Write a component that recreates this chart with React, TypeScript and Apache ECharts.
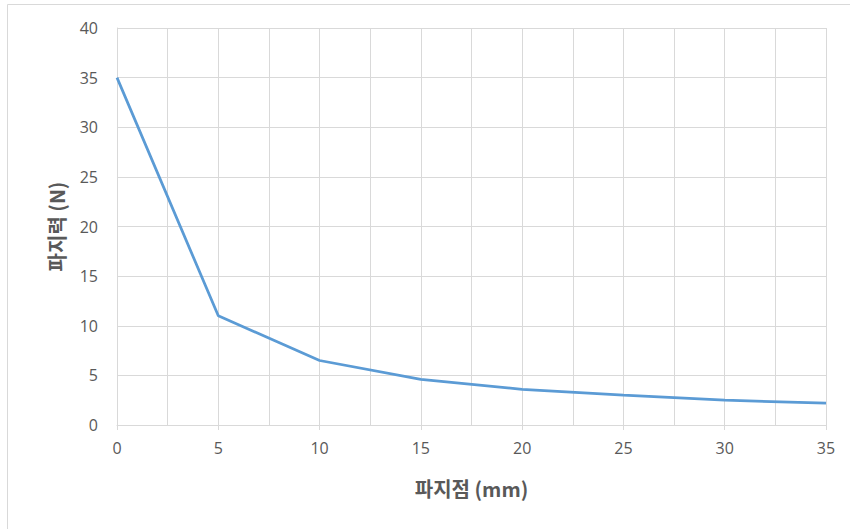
import React, { useEffect, useRef } from "react";
import * as echarts from "echarts";

const xValues = [0, 5, 10, 15, 20, 25, 30, 35];
const yValues = [35, 11, 6.5, 4.6, 3.6, 3.0, 2.5, 2.2];
const xTitle = "파지점 (mm)";
const yTitle = "파지력 (N)";

export default function App() {
  const ref = useRef<HTMLDivElement>(null);
  useEffect(() => {
    if (!ref.current) return;
    const chart = echarts.init(ref.current, null, { renderer: "svg" });
    const font = "'Noto Sans CJK KR', 'Noto Sans', sans-serif";
    const labelFont = "'Open Sans', 'Noto Sans', sans-serif";
    chart.setOption({
      animation: false,
      backgroundColor: "#ffffff",
      graphic: [
        {
          type: "rect",
          shape: { x: 7.5, y: 4.5, width: 860, height: 540 },
          style: { fill: "none", stroke: "#D9D9D9", lineWidth: 1 },
          silent: true,
        },
      ],
      grid: { left: 117, right: 24, top: 28, bottom: 104, containLabel: false },
      xAxis: {
        type: "value",
        min: 0,
        max: 35,
        interval: 5,
        name: xTitle,
        nameLocation: "middle",
        nameGap: 53,
        nameTextStyle: { color: "#595959", fontSize: 20, fontWeight: "bold", fontFamily: font },
        axisLine: { show: true, lineStyle: { color: "#D9D9D9", width: 1 } },
        axisTick: { show: true, length: 5, lineStyle: { color: "#D9D9D9" } },
        axisLabel: { color: "#595959", fontSize: 16, fontFamily: labelFont, margin: 15 },
        splitLine: { show: true, lineStyle: { color: "#D9D9D9", width: 1 } },
        minorTick: { show: false, splitNumber: 2 },
        minorSplitLine: { show: true, lineStyle: { color: "#D9D9D9", width: 1 } },
      },
      yAxis: {
        type: "value",
        min: 0,
        max: 40,
        interval: 5,
        name: yTitle,
        nameLocation: "middle",
        nameGap: 51,
        nameRotate: 90,
        nameTextStyle: { color: "#595959", fontSize: 20, fontWeight: "bold", fontFamily: font },
        axisLine: { show: true, lineStyle: { color: "#D9D9D9", width: 1 } },
        axisTick: { show: false },
        axisLabel: { color: "#595959", fontSize: 16, fontFamily: labelFont, margin: 19 },
        splitLine: { show: true, lineStyle: { color: "#D9D9D9", width: 1 } },
      },
      series: [
        {
          type: "line",
          data: xValues.map((x, i) => [x, yValues[i]]),
          showSymbol: false,
          symbol: "none",
          lineStyle: { color: "#5B9BD5", width: 2.75 },
          smooth: false,
        },
      ],
    });
    return () => chart.dispose();
  }, []);
  return (
    <div
      ref={ref}
      style={{ position: "fixed", left: 0, top: 0, width: 850, height: 529 }}
    />
  );
}
